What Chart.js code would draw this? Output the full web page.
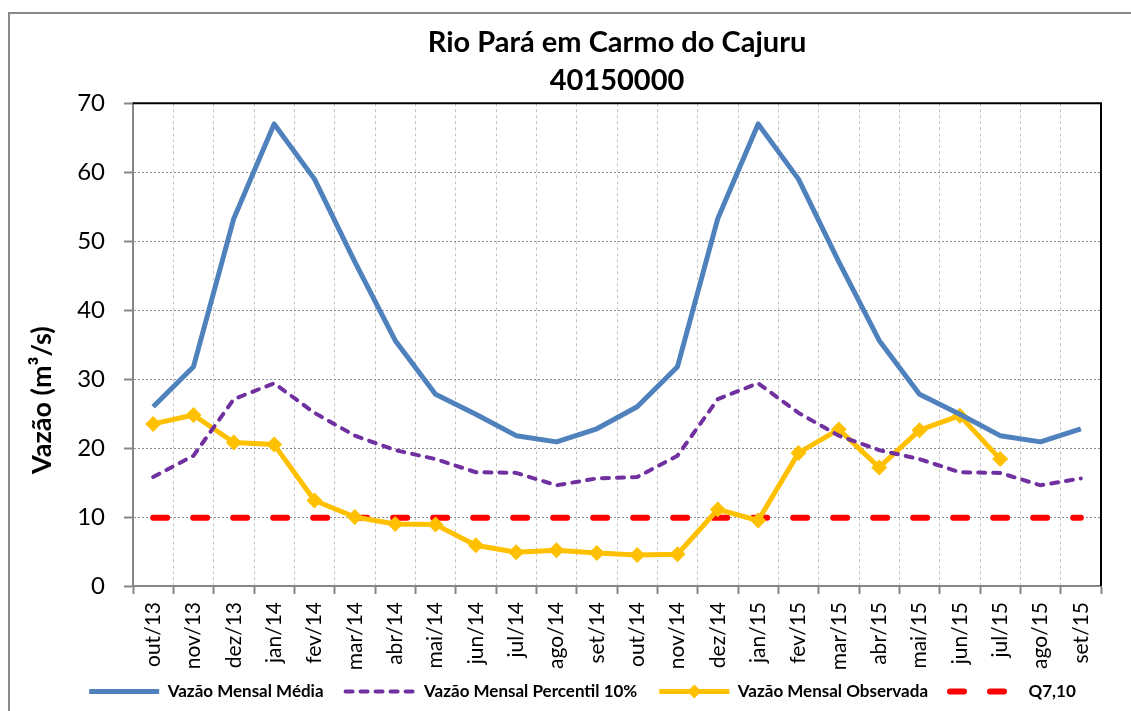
<!DOCTYPE html>
<html>
<head>
<meta charset="utf-8">
<script src="https://cdn.jsdelivr.net/npm/chart.js@4"></script>
<style>
  html, body { margin: 0; padding: 0; background: #fff; }
  #wrap { width: 1131px; height: 711px; position: relative; }
</style>
</head>
<body>
<div id="wrap"><canvas id="vazaoChart"></canvas></div>
<script>
const months = ['out/13', 'nov/13', 'dez/13', 'jan/14', 'fev/14', 'mar/14', 'abr/14', 'mai/14',
  'jun/14', 'jul/14', 'ago/14', 'set/14', 'out/14', 'nov/14', 'dez/14', 'jan/15', 'fev/15',
  'mar/15', 'abr/15', 'mai/15', 'jun/15', 'jul/15', 'ago/15', 'set/15'];

const mediaValues = [26.0, 31.8, 53.3, 67.0, 59.0, 47.0, 35.6, 27.8, 24.9, 21.8, 20.9, 22.8,
  26.0, 31.8, 53.3, 67.0, 59.0, 47.0, 35.6, 27.8, 24.9, 21.8, 20.9, 22.8];

const percentil10Values = [15.8, 18.9, 27.1, 29.4, 25.1, 21.8, 19.7, 18.4, 16.5, 16.4, 14.6, 15.6,
  15.8, 18.9, 27.1, 29.4, 25.1, 21.8, 19.7, 18.4, 16.5, 16.4, 14.6, 15.6];

const observadaValues = [23.5, 24.8, 20.8, 20.5, 12.4, 10.0, 9.0, 8.9, 5.9, 4.9, 5.2, 4.8,
  4.5, 4.6, 11.1, 9.5, 19.3, 22.7, 17.2, 22.6, 24.7, 18.4, null, null];

const q710Values = [9.9, 9.9, 9.9, 9.9, 9.9, 9.9, 9.9, 9.9, 9.9, 9.9, 9.9, 9.9,
  9.9, 9.9, 9.9, 9.9, 9.9, 9.9, 9.9, 9.9, 9.9, 9.9, 9.9, 9.9];

const yTicks = [0, 10, 20, 30, 40, 50, 60, 70];
const yTitle = 'Vazão (m³/s)';

const FONT = 'Lato, Carlito, Calibri, sans-serif';

// outer frame, black plot border on top/right, y title, diamond on the legend sample
const framePlugin = {
  id: 'frame',
  afterLayout(chart) {
    // x labels are clipped to the scale box; give them room over the legend gap
    const x = chart.scales.x;
    x.bottom = x.top + 92;
  },
  beforeDraw(chart) {
    const ctx = chart.ctx;
    ctx.save();
    ctx.fillStyle = '#fff';
    ctx.fillRect(0, 0, chart.width, chart.height);
    ctx.strokeStyle = '#8a8a8a';
    ctx.lineWidth = 2;
    ctx.strokeRect(9, 13, chart.width + 20, chart.height + 20);
    ctx.restore();
  },
  afterDraw(chart) {
    const ctx = chart.ctx;
    const a = chart.chartArea;
    ctx.save();
    ctx.strokeStyle = '#000';
    ctx.lineWidth = 2;
    ctx.beginPath();
    ctx.moveTo(a.left, a.top);
    ctx.lineTo(a.right, a.top);
    ctx.lineTo(a.right, a.bottom);
    ctx.stroke();

    ctx.save();
    ctx.translate(42, a.top + (a.bottom - a.top) * 0.615);
    ctx.rotate(-Math.PI / 2);
    ctx.fillStyle = '#000';
    ctx.font = 'bold 27px ' + FONT;
    ctx.textAlign = 'center';
    ctx.textBaseline = 'middle';
    ctx.fillText(yTitle, 0, 0);
    ctx.restore();

    const box = chart.legend.legendHitBoxes[2];
    if (box) {
      const bw = chart.legend.options.labels.pointStyleWidth;
      const cx = box.left + bw / 2;
      const cy = box.top + box.height / 2;
      ctx.fillStyle = '#FFC000';
      ctx.beginPath();
      ctx.moveTo(cx, cy - 7);
      ctx.lineTo(cx + 7, cy);
      ctx.lineTo(cx, cy + 7);
      ctx.lineTo(cx - 7, cy);
      ctx.closePath();
      ctx.fill();
    }
    ctx.restore();
  }
};

const ctx = document.getElementById('vazaoChart').getContext('2d');

new Chart(ctx, {
  type: 'line',
  data: {
    labels: months,
    datasets: [
      {
        label: 'Vazão Mensal Média',
        data: mediaValues,
        borderColor: '#4F81BD',
        backgroundColor: '#4F81BD',
        borderWidth: 5,
        pointRadius: 0,
        borderJoinStyle: 'round'
      },
      {
        label: 'Vazão Mensal Percentil 10%',
        data: percentil10Values,
        borderColor: '#7030A0',
        backgroundColor: '#7030A0',
        borderWidth: 4,
        borderDash: [7, 8],
        borderCapStyle: 'round',
        pointRadius: 0
      },
      {
        label: 'Vazão Mensal Observada',
        data: observadaValues,
        borderColor: '#FFC000',
        backgroundColor: '#FFC000',
        borderWidth: 5,
        borderJoinStyle: 'round',
        pointStyle: 'rectRot',
        pointRadius: 8,
        pointBackgroundColor: '#FFC000',
        pointBorderColor: '#FFC000',
        pointBorderWidth: 0,
        spanGaps: false
      },
      {
        label: 'Q7,10',
        data: q710Values,
        borderColor: '#FF0000',
        backgroundColor: '#FF0000',
        borderWidth: 6,
        borderDash: [14, 26],
        borderCapStyle: 'round',
        pointRadius: 0
      }
    ]
  },
  options: {
    responsive: true,
    maintainAspectRatio: false,
    animation: false,
    color: '#000',
    layout: {
      padding: { left: 64, top: 0, right: 30, bottom: 1 }
    },
    plugins: {
      title: {
        display: true,
        text: ['Rio Pará em Carmo do Cajuru', '40150000'],
        color: '#000',
        fullSize: false,
        font: { family: FONT, size: 29, weight: 'bold', lineHeight: 1.28 },
        padding: { top: 24.5, bottom: 4.5 }
      },
      legend: {
        display: true,
        position: 'bottom',
        labels: {
          usePointStyle: true,
          pointStyleWidth: 70,
          padding: 22,
          color: '#000',
          font: { family: FONT, size: 17, weight: 'bold' },
          generateLabels(chart) {
            const items = Chart.defaults.plugins.legend.labels.generateLabels(chart);
            items.forEach((it) => {
              const ds = chart.data.datasets[it.datasetIndex];
              it.pointStyle = 'line';
              it.strokeStyle = ds.borderColor;
              it.lineWidth = ds.borderWidth;
              it.lineDash = ds.borderDash || [];
              it.lineCap = ds.borderCapStyle || 'butt';
            });
            return items;
          }
        }
      },
      tooltip: { enabled: false }
    },
    scales: {
      x: {
        offset: true,
        grid: {
          offset: true,
          color: '#c4c4c4',
          lineWidth: 1,
          tickLength: 8,
          tickColor: '#868686',
          tickWidth: 2,
          tickBorderDash: []
        },
        border: { display: true, color: '#868686', width: 2, dash: [3, 3] },
        ticks: {
          autoSkip: false,
          minRotation: 90,
          maxRotation: 90,
          padding: 8,
          color: '#000',
          font: { family: FONT, size: 21 }
        },
        afterFit(scale) { scale.height = 75; }
      },
      y: {
        min: 0,
        max: 70,
        afterBuildTicks(scale) { scale.ticks = yTicks.map((v) => ({ value: v })); },
        grid: {
          color: '#8c8c8c',
          lineWidth: 1,
          tickLength: 9,
          tickColor: '#868686',
          tickWidth: 2,
          tickBorderDash: []
        },
        border: { display: true, color: '#868686', width: 2, dash: [2, 2] },
        ticks: {
          padding: 19,
          color: '#000',
          font: { family: FONT, size: 24 }
        },
        afterFit(scale) { scale.width = 69; }
      }
    }
  },
  plugins: [framePlugin]
});
</script>
</body>
</html>
